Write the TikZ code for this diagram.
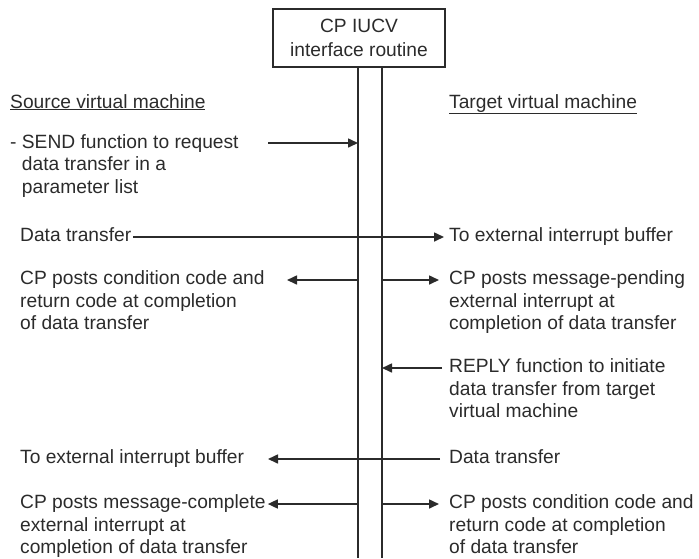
\documentclass[tikz,border=0pt]{standalone}
\usepackage{fontspec}
\setmainfont{Liberation Sans}
\usetikzlibrary{arrows.meta,positioning}
\definecolor{inkgray}{HTML}{2B2B2B}

\tikzset{
  lbl/.style={anchor=base west,inner sep=0pt,align=left,text=inkgray},
  wire/.style={draw=inkgray,line width=1.6pt},
  arr/.style={wire,-{Triangle[length=10pt,width=9pt]}},
}

\begin{document}
\begin{tikzpicture}[x=1pt,y=-1pt,font=\fontsize{19.2}{22.5}\selectfont]
    \useasboundingbox (0,0) rectangle (699,558);
    % interface routine with its two lines
    \node[wire,minimum width=172pt,minimum height=58pt,inner sep=0pt,align=center,text=inkgray,
      font=\fontsize{19.2}{24}\selectfont] (cp) at (359,38) {CP IUCV\\interface routine};
    \coordinate (src) at (358,558);
    \coordinate (tgt) at (382,558);
    \draw[wire] (cp.south -| src) -- (src);
    \draw[wire] (cp.south -| tgt) -- (tgt);

    % headings
    \node[lbl] (srcvm) at (10,108) {\underline{Source virtual machine}};
    \node[lbl] (tgtvm) at (449,108) {\underline{Target virtual machine}};

    % send (base of a long label is its last line)
    \node[lbl] (send) at (10,193) {- SEND function to request\\\hphantom{- }data transfer in a\\\hphantom{- }parameter list};
    \coordinate (sendx) at (268,143);
    \draw[arr] (sendx) -- (sendx -| src);

    % data transfer out
    \coordinate (r2) at (0,237);
    \node[lbl] (dtout) at (20,241.5) {Data transfer};
    \node[lbl] (bufin) at (449,241.5) {To external interrupt buffer};
    \draw[arr,shorten <=2pt,shorten >=5pt] (r2 -| dtout.east) -- (r2 -| bufin.west);

    % completion of send
    \coordinate (r3) at (0,280);
    \node[lbl] (ccsrc) at (20,329.5) {CP posts condition code and\\return code at completion\\of data transfer};
    \node[lbl] (pend) at (449,329.5) {CP posts message-pending\\external interrupt at\\completion of data transfer};
    \coordinate (ccx) at (287,280);
    \draw[arr] (r3 -| src) -- (ccx);
    \draw[arr,shorten >=10pt] (r3 -| tgt) -- (r3 -| pend.west);

    % reply
    \coordinate (r4) at (0,368);
    \node[lbl] (reply) at (449,417.5) {REPLY function to initiate\\data transfer from target\\virtual machine};
    \draw[arr,shorten <=7pt] (r4 -| reply.west) -- (r4 -| tgt);

    % data transfer back
    \coordinate (r5) at (0,459);
    \node[lbl] (bufout) at (20,463.5) {To external interrupt buffer};
    \node[lbl] (dtback) at (449,463.5) {Data transfer};
    \coordinate (bufx) at (268,459);
    \draw[arr,shorten <=9pt] (r5 -| dtback.west) -- (bufx);

    % completion of reply
    \coordinate (r6) at (0,504);
    \node[lbl] (cmpl) at (20,553.5) {CP posts message-complete\\external interrupt at\\completion of data transfer};
    \node[lbl] (cctgt) at (449,553.5) {CP posts condition code and\\return code at completion\\of data transfer};
    \draw[arr,shorten >=2pt] (r6 -| src) -- (r6 -| cmpl.east);
    \draw[arr,shorten >=10pt] (r6 -| tgt) -- (r6 -| cctgt.west);
\end{tikzpicture}
\end{document}
